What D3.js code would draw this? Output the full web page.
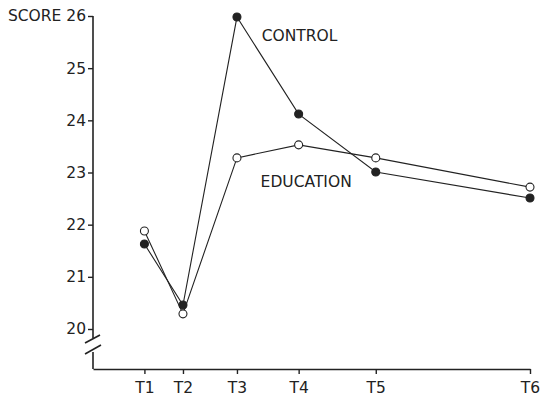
<!DOCTYPE html>
<html>
<head>
<meta charset="utf-8">
<script src="https://cdn.jsdelivr.net/npm/d3@7/dist/d3.min.js"></script>
<style>
  body { margin: 0; background: #fff; }
  svg text { font-family: "DejaVu Sans", sans-serif; fill: #222; }
</style>
</head>
<body>
<div id="chart"></div>
<script>
(function () {
  'use strict';

  // ---- data
  var timeLabels = ['T1', 'T2', 'T3', 'T4', 'T5', 'T6'];
  var timePoints = [1, 1.75, 2.8, 4, 5.5, 8.5];
  var controlScores = [21.63, 20.46, 25.98, 24.12, 23.01, 22.51];
  var educationScores = [21.88, 20.29, 23.28, 23.53, 23.28, 22.72];
  var scoreTicks = [20, 21, 22, 23, 24, 25, 26];

  var width = 547, height = 399;
  var ink = '#222';
  var fontSize = '15.5px';

  var svg = d3.select('#chart').append('svg')
    .attr('width', width)
    .attr('height', height);

  var x = d3.scaleLinear().domain([0, 8.5]).range([93, 530]);
  var y = d3.scaleLinear().domain([20, 26]).range([329, 16]);
  var axisY = 369;

  //---- x axis
  var xAxis = svg.append('g')
    .attr('transform', 'translate(0,' + axisY + ')')
    .call(d3.axisBottom(x)
      .tickValues(timePoints)
      .tickFormat(function (d, i) { return timeLabels[i]; })
      .tickSize(5)
      .tickSizeOuter(0));
  xAxis.select('.domain').attr('stroke', ink).attr('stroke-width', 1.6);
  xAxis.selectAll('.tick line').attr('stroke', ink).attr('stroke-width', 1.4);
  xAxis.selectAll('.tick text')
    .attr('dy', '1.05em')
    .attr('y', 8)
    .style('font-size', fontSize);

  //---- y axis (line drawn by hand because of the break)
  var yAxis = svg.append('g')
    .attr('transform', 'translate(' + x(0) + ',0)')
    .call(d3.axisLeft(y)
      .tickValues(scoreTicks)
      .tickFormat(function (d) { return d === 26 ? 'SCORE 26' : d; })
      .tickSize(5)
      .tickSizeOuter(0));
  yAxis.select('.domain').remove();
  yAxis.selectAll('.tick line').attr('stroke', ink).attr('stroke-width', 1.4);
  yAxis.selectAll('.tick text')
    .attr('x', -7)
    .style('font-size', fontSize);

  var breakTop = y(20) + 9, breakBottom = y(20) + 23;
  var axisLines = [
    [[x(0), y(26)], [x(0), breakTop]],
    [[x(0), breakBottom], [x(0), axisY]],
    [[x(0) - 8, breakTop + 5], [x(0) + 7, breakTop - 3]],
    [[x(0) - 8, breakBottom + 2], [x(0) + 8, breakBottom - 7]]
  ];
  svg.append('g').selectAll('path')
    .data(axisLines).enter()
    .append('path')
    .attr('d', d3.line())
    .attr('fill', 'none')
    .attr('stroke', ink)
    .attr('stroke-width', 1.6);

  //---- series
  var line = d3.line()
    .x(function (d, i) { return x(timePoints[i]); })
    .y(function (d) { return y(d); });

  var series = [
    { name: 'control', values: controlScores, fill: ink },
    { name: 'education', values: educationScores, fill: '#fff' }
  ];

  series.forEach(function (s) {
    svg.append('path')
      .datum(s.values)
      .attr('d', line)
      .attr('fill', 'none')
      .attr('stroke', ink)
      .attr('stroke-width', 1.1);
  });

  series.forEach(function (s) {
    svg.selectAll('circle.' + s.name)
      .data(s.values).enter()
      .append('circle')
      .attr('class', s.name)
      .attr('cx', function (d, i) { return x(timePoints[i]); })
      .attr('cy', function (d) { return y(d); })
      .attr('r', 4)
      .attr('fill', s.fill)
      .attr('stroke', ink)
      .attr('stroke-width', 1.1);
  });

  //---- series labels
  svg.append('text')
    .attr('x', x(3.28))
    .attr('y', y(25.52))
    .style('font-size', fontSize)
    .text('CONTROL');
  svg.append('text')
    .attr('x', x(3.26))
    .attr('y', y(22.73))
    .style('font-size', fontSize)
    .text('EDUCATION');
})();
</script>
</body>
</html>
